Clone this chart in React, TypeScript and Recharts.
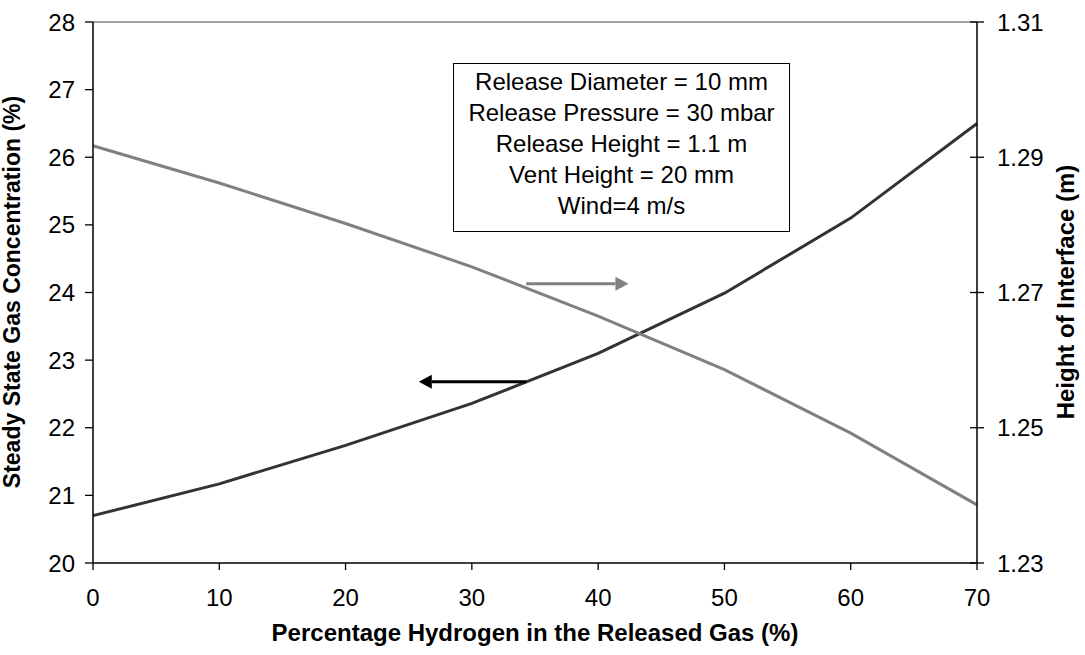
import { Line, LineChart, ReferenceLine, XAxis, YAxis } from "recharts";

const FONT = '"Liberation Sans", Arial, sans-serif';

// values
const hydrogenPct = [0, 10, 20, 30, 40, 50, 60, 70];
const gasConcentration = [20.7, 21.17, 21.74, 22.36, 23.1, 23.99, 25.1, 26.5];
const interfaceHeight = [1.2917, 1.2862, 1.2802, 1.2738, 1.2665, 1.2586, 1.2492, 1.2386];

const xTicks = [0, 10, 20, 30, 40, 50, 60, 70];
const leftTicks = [20, 21, 22, 23, 24, 25, 26, 27, 28];
const rightTicks = [1.23, 1.25, 1.27, 1.29, 1.31];

const noteLines = [
  "Release Diameter = 10 mm",
  "Release Pressure = 30 mbar",
  "Release Height = 1.1 m",
  "Vent Height = 20 mm",
  "Wind=4 m/s",
];

// arrows pointing at the axis each curve belongs to (left-axis units)
const greyArrow = { y: 24.13, from: 34.3, to: 42.4 };
const blackArrow = { y: 22.68, from: 34.3, to: 25.8 };

const data = hydrogenPct.map((x, i) => ({
  x,
  conc: gasConcentration[i],
  height: interfaceHeight[i],
}));

function arrowShape(color: string) {
  return (p: any) => {
    const { x1, y1, x2, y2 } = p;
    const dir = x2 > x1 ? 1 : -1;
    const bx = x2 - dir * 13;
    return (
      <g>
        <line x1={x1} y1={y1} x2={bx} y2={y2} stroke={color} strokeWidth={3} />
        <polygon points={`${x2},${y2} ${bx},${y2 - 7} ${bx},${y2 + 7}`} fill={color} />
      </g>
    );
  };
}

function RightTick(props: any) {
  const { x, y, payload } = props;
  const axisX = x - 20;
  return (
    <g>
      <line x1={axisX - 7} x2={axisX + 7} y1={y} y2={y} stroke="#000" strokeWidth={1.3} />
      <text x={x} y={y} dy={8.5} fontSize={24} fontFamily={FONT} fill="#000">
        {Number(payload.value).toFixed(2)}
      </text>
    </g>
  );
}

const titleStyle: React.CSSProperties = {
  position: "absolute",
  fontFamily: FONT,
  fontWeight: "bold",
  fontSize: 24,
  lineHeight: "24px",
  whiteSpace: "nowrap",
  color: "#000",
};

export default function App() {
  return (
    <div style={{ position: "absolute", left: 0, top: 0, width: 1085, height: 655, background: "#fff", fontFamily: FONT }}>
      <LineChart width={1085} height={655} data={data} margin={{ top: 22, right: 0, bottom: 0, left: 0 }}>
        <XAxis
          dataKey="x"
          type="number"
          domain={[0, 70]}
          ticks={xTicks}
          height={92}
          tickSize={7}
          tickMargin={19}
          axisLine={{ stroke: "#000", strokeWidth: 1.5 }}
          tickLine={{ stroke: "#000", strokeWidth: 1.3 }}
          tick={{ fontSize: 24, fontFamily: FONT, fill: "#000" }}
        />
        <YAxis
          yAxisId="left"
          orientation="left"
          width={93}
          domain={[20, 28]}
          ticks={leftTicks}
          tickSize={8}
          tickMargin={10}
          axisLine={{ stroke: "#000", strokeWidth: 1.5 }}
          tickLine={{ stroke: "#000", strokeWidth: 1.3 }}
          tick={{ fontSize: 24, fontFamily: FONT, fill: "#000" }}
        />
        <YAxis
          yAxisId="right"
          orientation="right"
          width={108}
          domain={[1.23, 1.31]}
          ticks={rightTicks}
          tickSize={7}
          tickMargin={13}
          tickLine={false}
          axisLine={{ stroke: "#000", strokeWidth: 1.5 }}
          tick={<RightTick />}
        />
        <ReferenceLine yAxisId="left" y={28} stroke="#808080" strokeWidth={1.5} />
        <Line
          yAxisId="left"
          type="linear"
          dataKey="conc"
          stroke="#333333"
          strokeWidth={3}
          dot={false}
          isAnimationActive={false}
        />
        <Line
          yAxisId="right"
          type="linear"
          dataKey="height"
          stroke="#808080"
          strokeWidth={3}
          dot={false}
          isAnimationActive={false}
        />
        <ReferenceLine
          yAxisId="left"
          segment={[{ x: greyArrow.from, y: greyArrow.y }, { x: greyArrow.to, y: greyArrow.y }]}
          shape={arrowShape("#808080")}
        />
        <ReferenceLine
          yAxisId="left"
          segment={[{ x: blackArrow.from, y: blackArrow.y }, { x: blackArrow.to, y: blackArrow.y }]}
          shape={arrowShape("#000")}
        />
      </LineChart>

      <div
        style={{
          position: "absolute",
          left: 453,
          top: 63,
          width: 337,
          height: 169,
          boxSizing: "border-box",
          border: "1.5px solid #000",
          background: "#fff",
          fontFamily: FONT,
          fontSize: 24,
          lineHeight: "31px",
          textAlign: "center",
          paddingTop: 1.5,
          color: "#000",
        }}
      >
        {noteLines.map((line) => (
          <div key={line}>{line}</div>
        ))}
      </div>

      <div style={{ ...titleStyle, left: 535, top: 621, transform: "translateX(-50%)" }}>
        Percentage Hydrogen in the Released Gas (%)
      </div>
      <div style={{ ...titleStyle, fontSize: 23, lineHeight: "23px", left: 12, top: 292, transform: "translate(-50%, -50%) rotate(-90deg)" }}>
        Steady State Gas Concentration (%)
      </div>
      <div style={{ ...titleStyle, left: 1066, top: 292, transform: "translate(-50%, -50%) rotate(-90deg)" }}>
        Height of Interface (m)
      </div>
    </div>
  );
}
